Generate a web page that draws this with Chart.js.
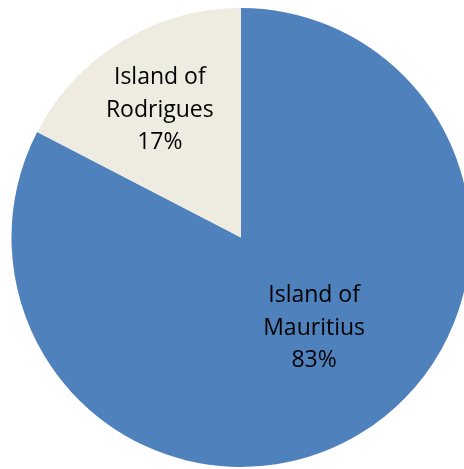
<!DOCTYPE html>
<html>
<head>
<meta charset="utf-8">
<script src="https://cdn.jsdelivr.net/npm/chart.js@4/dist/chart.umd.min.js"></script>
<style>
  html, body { margin: 0; padding: 0; background: #fff; overflow: hidden; }
  #wrap { width: 482px; height: 469px; }
</style>
</head>
<body>
<div id="wrap"><canvas id="pieChart" width="482" height="469"></canvas></div>
<script>
// ==================== island share pie ====================

const islandLabels = [['Island of', 'Mauritius'], ['Island of', 'Rodrigues']];
const islandShares = [82.6, 17.4];
const sliceColors = ['#4F81BD', '#EEECE1'];

// label placement: fraction of radius, angle shift (deg) from slice middle
const labelPlacement = [{ r: 0.507, shift: -7.6 }, { r: 0.658, shift: -1.2 }];

const sliceLabelPlugin = {
  id: 'sliceLabels',
  afterDatasetsDraw(chart) {
    const ctx = chart.ctx;
    const meta = chart.getDatasetMeta(0);
    const total = islandShares.reduce((a, b) => a + b, 0);
    ctx.save();
    ctx.font = '23px "Open Sans"';
    ctx.fillStyle = '#000';
    ctx.textAlign = 'center';
    ctx.textBaseline = 'middle';
    meta.data.forEach((arc, i) => {
      const p = labelPlacement[i];
      const mid = (arc.startAngle + arc.endAngle) / 2 + p.shift * Math.PI / 180;
      const x = arc.x + Math.cos(mid) * arc.outerRadius * p.r;
      const y = arc.y + Math.sin(mid) * arc.outerRadius * p.r;
      const lines = [...islandLabels[i], Math.round(islandShares[i] / total * 100) + '%'];
      const lh = 32.5;
      lines.forEach((t, k) => ctx.fillText(t, x, y + (k - 1) * lh));
    });
    ctx.restore();
  }
};

new Chart(document.getElementById('pieChart'), {
  type: 'pie',
  data: {
    labels: islandLabels.map(l => l.join(' ')),
    datasets: [{ data: islandShares, backgroundColor: sliceColors, borderWidth: 0 }]
  },
  options: {
    responsive: false,
    animation: false,
    layout: { padding: { top: 8, bottom: 2, left: 11, right: 11 } },
    plugins: { legend: { display: false }, tooltip: { enabled: false } }
  },
  plugins: [sliceLabelPlugin]
});
</script>
</body>
</html>
